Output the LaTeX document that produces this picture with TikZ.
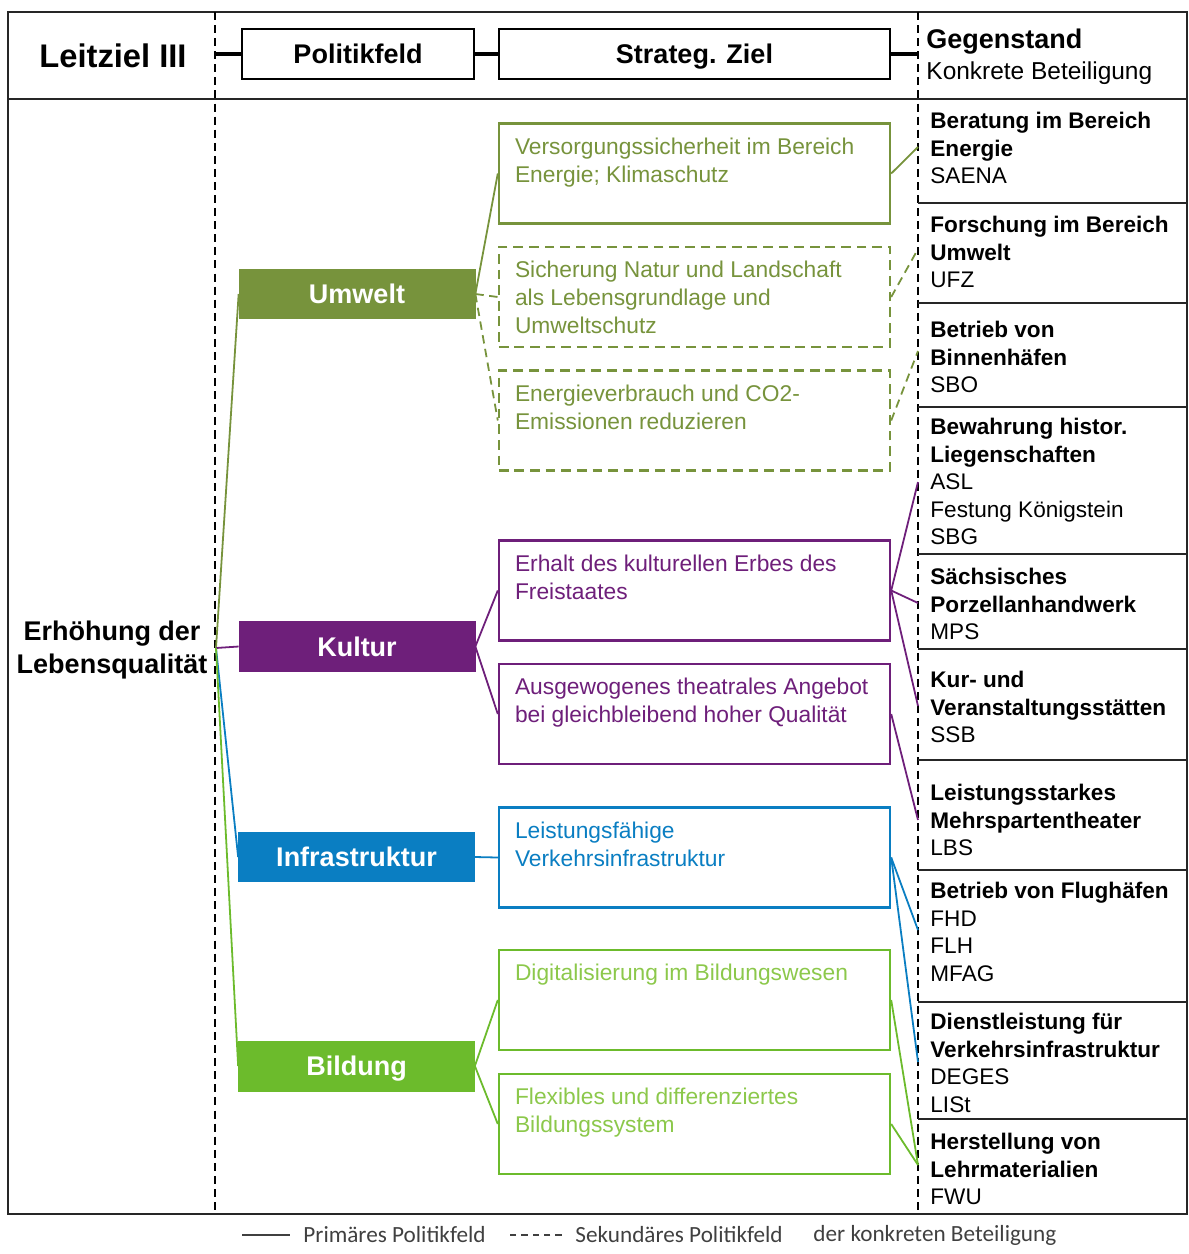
\documentclass[tikz,border=0pt]{standalone}
\usepackage{fontspec}
\setmainfont{Liberation Sans}
\newfontfamily\legendfont{Carlito}
\usetikzlibrary{positioning}

\definecolor{umweltgreen}{HTML}{77933C}
\definecolor{kulturpurple}{HTML}{6E1F7A}
\definecolor{infrablue}{HTML}{0A7EC2}
\definecolor{bildunggreen}{HTML}{6CBB2C}
\definecolor{bildungtext}{HTML}{8CC84B}

\tikzset{
  field/.style={fill=#1, draw=#1, text=white, inner sep=0,
    minimum width=3.93cm, minimum height=0.83cm,
    text height=9.2pt, text depth=0pt,
    font=\fontsize{12.8}{15}\selectfont\bfseries},
  goal/.style={draw=#1, line width=1pt, inner sep=0,
    minimum width=6.52cm, minimum height=1.667cm},
  goaltext/.style={text=#1, anchor=north west, inner sep=0, align=left,
    font=\fontsize{10.8}{13.2}\selectfont},
  headbox/.style={draw, line width=1pt, inner sep=0, minimum height=0.82cm,
    text height=9.2pt, text depth=0pt,
    font=\fontsize{12.8}{15}\selectfont\bfseries},
  cell/.style={anchor=north west, inner sep=0, align=left,
    font=\fontsize{10.7}{13}\selectfont},
  primary/.style={line width=0.85pt},
  secondary/.style={line width=0.85pt, dash pattern=on 4pt off 2.6pt},
  colsep/.style={line width=0.9pt, dash pattern=on 3.8pt off 2.4pt},
  divider/.style={line width=1pt, black!85},
  legend/.style={anchor=west, inner sep=0, text=black!75,
    font=\legendfont\fontsize{11}{13}\selectfont},
}

\begin{document}
\begin{tikzpicture}[x=0.016667cm, y=-0.016667cm]
\useasboundingbox (0,0) rectangle (1188,1254);

% frame and columns
\draw[line width=1pt, black!85] (8,12) rectangle (1187,1214);
\draw[divider] (8,99) -- (1187,99);
\draw[colsep] (215,12) -- (215,1214);
\draw[colsep] (918,12) -- (918,1214);
\foreach \y in {203,303,407,554,649,760,870,1002,1119}
  \draw[divider] (918,\y) -- (1187,\y);

% header row
\node[font=\fontsize{15.5}{18}\selectfont\bfseries] (leitziel) at (113,56) {Leitziel III};
\node[headbox, minimum width=3.87cm] (hpol) at (358,54) {Politikfeld};
\node[headbox, minimum width=6.52cm] (hziel) at (694.5,54) {Strateg. Ziel};
\node[anchor=north west, inner sep=0, align=left,
      font=\fontsize{11.6}{14.6}\selectfont] (hgeg) at (926,29)
  {{\fontsize{12.8}{14.6}\selectfont\bfseries Gegenstand}\\Konkrete Beteiligung};
\coordinate (hleft) at (215,54);
\coordinate (hright) at (918,54);
\draw[line width=1.5pt] (hleft) -- (hpol.west) (hpol.east) -- (hziel.west)
  (hziel.east) -- (hright);

% Leitziel
\node[align=center, font=\fontsize{12.8}{15.6}\selectfont\bfseries] (ziel) at (112,650)
  {Erhöhung der\\Lebensqualität};
\coordinate (hub) at (216,648);

% Politikfelder
\node[field=umweltgreen] (umwelt) at (357,294) {Umwelt};
\node[field=kulturpurple] (kultur) at (357,646.5) {Kultur};
\node[field=infrablue] (infra) at (356.5,857) {Infrastruktur};
\node[field=bildunggreen] (bildung) at (356.5,1066) {Bildung};

% strategische Ziele
\node[goal=umweltgreen] (z1) at (694.5,173.5) {};
\node[goal=umweltgreen, dash pattern=on 4.6pt off 2.8pt] (z2) at (694.5,297) {};
\node[goal=umweltgreen, dash pattern=on 4.6pt off 2.8pt] (z3) at (694.5,420.5) {};
\node[goal=kulturpurple] (z4) at (694.5,590.5) {};
\node[goal=kulturpurple] (z5) at (694.5,714) {};
\node[goal=infrablue] (z6) at (694.5,857.5) {};
\node[goal=bildunggreen] (z7) at (694.5,1000) {};
\node[goal=bildunggreen] (z8) at (694.5,1124) {};

\node[goaltext=umweltgreen] (z1t) at ([xshift=0.28cm,yshift=-0.25cm]z1.north west)
  {Versorgungssicherheit im Bereich\\Energie; Klimaschutz};
\node[goaltext=umweltgreen] (z2t) at ([xshift=0.28cm,yshift=-0.25cm]z2.north west)
  {Sicherung Natur und Landschaft\\als Lebensgrundlage und\\Umweltschutz};
\node[goaltext=umweltgreen] (z3t) at ([xshift=0.28cm,yshift=-0.25cm]z3.north west)
  {Energieverbrauch und CO2-\\Emissionen reduzieren};
\node[goaltext=kulturpurple] (z4t) at ([xshift=0.28cm,yshift=-0.25cm]z4.north west)
  {Erhalt des kulturellen Erbes des\\Freistaates};
\node[goaltext=kulturpurple] (z5t) at ([xshift=0.28cm,yshift=-0.25cm]z5.north west)
  {Ausgewogenes theatrales Angebot\\bei gleichbleibend hoher Qualität};
\node[goaltext=infrablue] (z6t) at ([xshift=0.28cm,yshift=-0.25cm]z6.north west)
  {Leistungsfähige\\Verkehrsinfrastruktur};
\node[goaltext=bildungtext] (z7t) at ([xshift=0.28cm,yshift=-0.25cm]z7.north west)
  {Digitalisierung im Bildungswesen};
\node[goaltext=bildungtext] (z8t) at ([xshift=0.28cm,yshift=-0.25cm]z8.north west)
  {Flexibles und differenziertes\\Bildungssystem};

% Beteiligungen
\node[cell] (saena) at (930,112) {\textbf{Beratung im Bereich}\\\textbf{Energie}\\SAENA};
\node[cell] (ufz) at (930,216) {\textbf{Forschung im Bereich}\\\textbf{Umwelt}\\UFZ};
\node[cell] (sbo) at (930,321) {\textbf{Betrieb von}\\\textbf{Binnenhäfen}\\SBO};
\node[cell] (asl) at (930,418) {\textbf{Bewahrung histor.}\\\textbf{Liegenschaften}\\ASL\\Festung Königstein\\SBG};
\node[cell] (mps) at (930,568) {\textbf{Sächsisches}\\\textbf{Porzellanhandwerk}\\MPS};
\node[cell] (ssb) at (930,671) {\textbf{Kur- und}\\\textbf{Veranstaltungsstätten}\\SSB};
\node[cell] (lbs) at (930,784) {\textbf{Leistungsstarkes}\\\textbf{Mehrspartentheater}\\LBS};
\node[cell] (flug) at (930,882) {\textbf{Betrieb von Flughäfen}\\FHD\\FLH\\MFAG};
\node[cell] (deges) at (930,1013) {\textbf{Dienstleistung für}\\\textbf{Verkehrsinfrastruktur}\\DEGES\\LISt};
\node[cell] (fwu) at (930,1133) {\textbf{Herstellung von}\\\textbf{Lehrmaterialien}\\FWU};

% Anschlusspunkte an der Spaltenlinie
\coordinate (saena-in) at (918,147);
\coordinate (ufz-in) at (918,249);
\coordinate (sbo-in) at (918,351);
\coordinate (asl-in) at (918,482);
\coordinate (mps-in) at (918,603);
\coordinate (ssb-in) at (918,706);
\coordinate (lbs-in) at (918,820);
\coordinate (flug-in) at (918,930);
\coordinate (deges-in) at (918,1062);
\coordinate (fwu-in) at (918,1165);

% Leitziel -> Politikfeld
\draw[primary, umweltgreen] (hub) -- (umwelt.west);
\draw[primary, kulturpurple] (hub) -- (kultur.west);
\draw[primary, infrablue] (hub) -- (infra.west);
\draw[primary, bildunggreen] (hub) -- (bildung.west);

% Politikfeld -> Ziel
\draw[primary, umweltgreen] (umwelt.east) -- (z1.west);
\draw[secondary, umweltgreen] (umwelt.east) -- (z2.west);
\draw[secondary, umweltgreen] (umwelt.east) -- (z3.west);
\draw[primary, kulturpurple] (kultur.east) -- (z4.west);
\draw[primary, kulturpurple] (kultur.east) -- (z5.west);
\draw[primary, infrablue] (infra.east) -- (z6.west);
\draw[primary, bildunggreen] (bildung.east) -- (z7.west);
\draw[primary, bildunggreen] (bildung.east) -- (z8.west);

% Ziel -> Beteiligung
\draw[primary, umweltgreen] (z1.east) -- (saena-in);
\draw[secondary, umweltgreen] (z2.east) -- (ufz-in);
\draw[secondary, umweltgreen] (z3.east) -- (sbo-in);
\draw[primary, kulturpurple] (z4.east) -- (asl-in);
\draw[primary, kulturpurple] (z4.east) -- (mps-in);
\draw[primary, kulturpurple] (z4.east) -- (ssb-in);
\draw[primary, kulturpurple] (z5.east) -- (lbs-in);
\draw[primary, infrablue] (z6.east) -- (flug-in);
\draw[primary, infrablue] (z6.east) -- (deges-in);
\draw[primary, bildunggreen] (z7.east) -- (fwu-in);
\draw[primary, bildunggreen] (z8.east) -- (fwu-in);

% legend
\node[legend] (legprim) at (303,1235) {Primäres Politikfeld};
\node[legend] (legsek) at (575,1235) {Sekundäres Politikfeld};
\node[legend] (legbet) at (813,1235) {der konkreten Beteiligung};
\draw[line width=1.2pt, black!75] ([xshift=-0.22cm]legprim.west) -- ++(-0.8cm,0);
\draw[line width=1.2pt, black!75, dash pattern=on 3pt off 2.4pt]
  ([xshift=-0.22cm]legsek.west) -- ++(-0.9cm,0);
\end{tikzpicture}
\end{document}
